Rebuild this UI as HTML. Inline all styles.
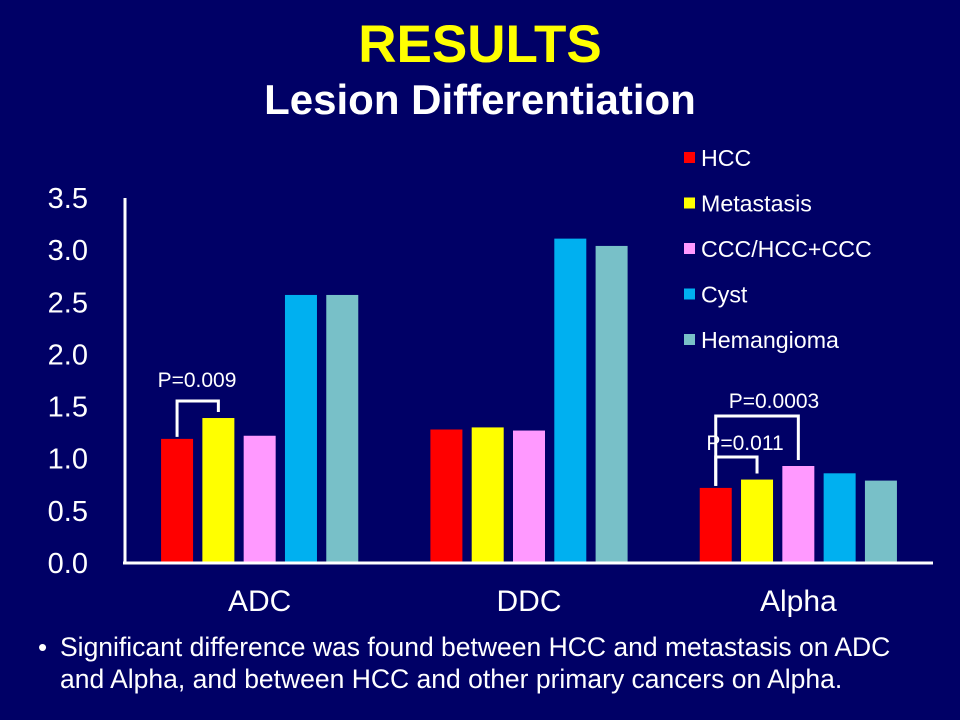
<!DOCTYPE html>
<html><head><meta charset="utf-8"><style>
body{margin:0;background:#000066;}
svg{display:block;font-family:"Liberation Sans",Arial,sans-serif;}
</style></head><body>
<svg width="960" height="720" viewBox="0 0 960 720">
<rect width="960" height="720" fill="#000066"/>
<text x="480" y="62" text-anchor="middle" fill="#ffff00" font-size="53" font-weight="bold">RESULTS</text>
<text x="480" y="114" text-anchor="middle" fill="#ffffff" font-size="42" font-weight="bold">Lesion Differentiation</text>
<g id="chart"></g>
<text x="38" y="656" fill="#fff" font-size="26">•</text>
<text x="60" y="656" fill="#fff" font-size="26.5">Significant difference was found between HCC and metastasis on ADC</text>
<text x="60" y="688" fill="#fff" font-size="26.5">and Alpha, and between HCC and other primary cancers on Alpha.</text>
</svg>
<script>
const categories=["ADC","DDC","Alpha"];
const seriesNames=["HCC","Metastasis","CCC/HCC+CCC","Cyst","Hemangioma"];
const hcc=[1.19,1.28,0.72];
const metastasis=[1.39,1.30,0.80];
const ccc=[1.22,1.27,0.93];
const cyst=[2.57,3.11,0.86];
const hemangioma=[2.57,3.04,0.79];
const yTicks=["0.0","0.5","1.0","1.5","2.0","2.5","3.0","3.5"];
const colors=["#ff0000","#ffff00","#ff99ff","#00b0f0","#78c0c8"];
const series=[hcc,metastasis,ccc,cyst,hemangioma];
const NS="http://www.w3.org/2000/svg";
const g=document.getElementById("chart");
const x0=125,x1=933,yBase=563,pxPerUnit=104.3;
const y=v=>yBase-v*pxPerUnit;
const groupW=(x1-x0)/categories.length;
const cx=i=>x0+groupW*(i+0.5);
const barX=(i,s)=>cx(i)-16+(s-2)*41.3;
function mk(tag,attrs){const e=document.createElementNS(NS,tag);for(const k in attrs)e.setAttribute(k,attrs[k]);g.appendChild(e);return e;}
yTicks.forEach((t,i)=>{const e=mk("text",{x:88,y:y(parseFloat(t))+10,"text-anchor":"end",fill:"#fff","font-size":"29"});e.textContent=t;

});
series.forEach((arr,s)=>arr.forEach((v,i)=>{const r=mk("rect",{x:barX(i,s),y:y(v),width:32,height:v*pxPerUnit,fill:colors[s]});

}));
const ya=mk("line",{x1:x0,y1:y(3.5),x2:x0,y2:yBase,stroke:"#fff","stroke-width":3});


const xa=mk("line",{x1:x0-2,y1:yBase,x2:x1,y2:yBase,stroke:"#fff","stroke-width":3});


categories.forEach((c,i)=>{const e=mk("text",{x:cx(i),y:611,"text-anchor":"middle",fill:"#fff","font-size":"30"});e.textContent=c;

});
seriesNames.forEach((n,s)=>{const ly=158+s*45.5;
const r=mk("rect",{x:684,y:ly-6,width:11,height:11,fill:colors[s]});


const t=mk("text",{x:701,y:ly+8,fill:"#fff","font-size":"23.2"});t.textContent=n;

});
function bracket(i,sa,sb,top,label,lx,ly){
const xa=barX(i,sa)+16,xb=barX(i,sb)+16;
const p=mk("polyline",{points:`${xa},${y(series[sa][i])-2} ${xa},${top} ${xb},${top} ${xb},${y(series[sb][i])-6}`,fill:"none",stroke:"#fff","stroke-width":3});


const t=mk("text",{x:lx,y:ly,"text-anchor":"middle",fill:"#fff","font-size":"21"});t.textContent=label;

}
bracket(0,0,1,401,"P=0.009",197,387);
bracket(2,0,2,416,"P=0.0003",774,408);
bracket(2,0,1,457,"P=0.011",745,450);
</script>
</body></html>
